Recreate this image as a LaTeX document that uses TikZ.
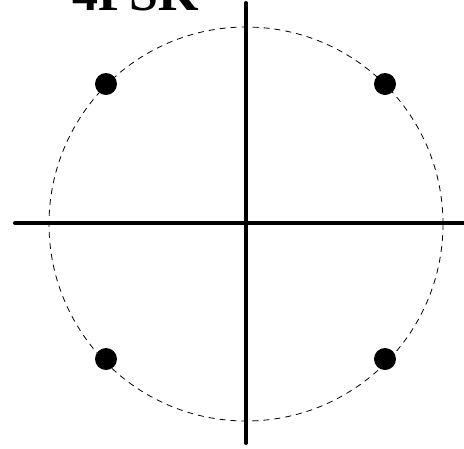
\documentclass[tikz,border=0pt]{standalone}
\usepackage{fontspec}
\setmainfont{Liberation Serif}
\begin{document}
\begin{tikzpicture}[x=1pt,y=-1pt,
  axis/.style={line width=4pt,line cap=round},
  ring/.style={dashed,dash pattern=on 6pt off 5pt,line width=0.8pt},
  dot/.style={circle,fill=black,inner sep=0pt,minimum size=22pt}]
\useasboundingbox (0,0) rectangle (464,448);
\clip (0,0) rectangle (464,448);
\coordinate (c) at (246,224);
\draw[ring] (c) circle (197);
\coordinate (xl) at (15,223);
\coordinate (xr) at (475,223);
\coordinate (yt) at (246,3);
\coordinate (yb) at (246,443);
\draw[axis] (xl) -- (xr);
\draw[axis] (yt) -- (yb);
\node[dot] (s1) at (106,84) {};
\node[dot] (s2) at (385,84) {};
\node[dot] (s3) at (106,359) {};
\node[dot] (s4) at (385,359) {};
\node[anchor=base west,inner sep=0pt,font=\bfseries\fontsize{52}{52}\selectfont] (title) at (72,10) {4PSK};
\end{tikzpicture}
\end{document}
